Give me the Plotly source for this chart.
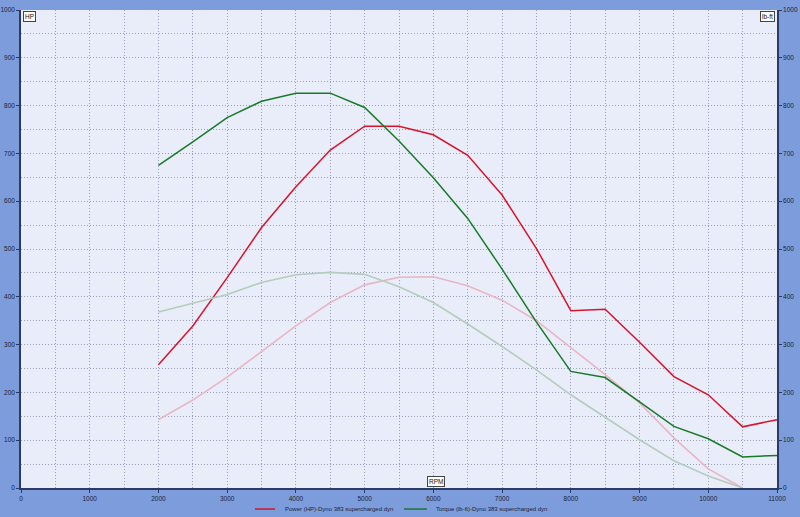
import plotly.graph_objects as go

rpm = [2000, 2500, 3000, 3500, 4000, 4500, 5000, 5500, 6000, 6500, 7000,
       7500, 8000, 8500, 9000, 9500, 10000, 10500, 11000]
power_hp = [258, 339, 440, 545, 630, 707, 757, 757, 739, 696, 613,
            501, 371, 374, 305, 233, 195, 128, 143]
torque_lbft = [675, 724, 775, 809, 826, 826, 796, 726, 649, 564, 458,
               347, 244, 231, 180, 129, 103, 65, 68]

rpm_b = [2000, 2500, 3000, 3500, 4000, 4500, 5000, 5500, 6000, 6500, 7000,
         7500, 8000, 8500, 9000, 9500, 10000, 10500]
power_b = [143, 184, 232, 286, 339, 388, 425, 441, 442, 423, 393,
           350, 293, 237, 178, 105, 40, 0]
torque_b = [368, 387, 405, 430, 446, 451, 447, 421, 388, 343, 296,
            247, 195, 148, 101, 57, 25, 0]

power_name = "Power (HP)-Dyno 383 supercharged dyn"
torque_name = "Torque (lb-ft)-Dyno 383 supercharged dyn"
power_color = "#d8142c"
torque_color = "#187a28"

x_ticks = list(range(0, 11001, 1000))
y_ticks = list(range(0, 1001, 100))

outer_bg = "#7c9cdc"
plot_bg = "#e9ecf9"
grid_col = "#9a9fbc"
axis_col = "#2c3a66"
tick_font = dict(family="Liberation Sans", size=6.5, color="#1a1f3a")
legend_font = dict(family="Liberation Sans", size=6, color="#1a1f3a")
dash = "1px,2px"

fig = go.Figure()
fig.add_trace(go.Scatter(x=rpm_b, y=torque_b, mode="lines",
                         line=dict(color="#b4cdbc", width=1.6),
                         showlegend=False, hoverinfo="skip", yaxis="y2"))
fig.add_trace(go.Scatter(x=rpm_b, y=power_b, mode="lines",
                         line=dict(color="#e8b6c6", width=1.6),
                         showlegend=False, hoverinfo="skip"))
fig.add_trace(go.Scatter(x=rpm, y=power_hp, mode="lines", name=power_name,
                         line=dict(color=power_color, width=1.5), showlegend=False))
fig.add_trace(go.Scatter(x=rpm, y=torque_lbft, mode="lines", name=torque_name,
                         line=dict(color=torque_color, width=1.5), yaxis="y2",
                         showlegend=False))

fig.update_layout(
    width=800, height=517,
    margin=dict(l=21, r=23, t=10, b=29),
    paper_bgcolor=outer_bg,
    plot_bgcolor=plot_bg,
    font=tick_font,
    showlegend=False,
    xaxis=dict(range=[0, 11000], tickvals=x_ticks, ticktext=[str(v) for v in x_ticks],
               showgrid=True, gridcolor=grid_col, griddash=dash, gridwidth=1,
               minor=dict(dtick=500, showgrid=True, gridcolor=grid_col, griddash=dash, gridwidth=1),
               zeroline=False, showline=True, linecolor=axis_col, linewidth=1.5,
               ticks="outside", ticklen=3, tickcolor=axis_col, tickfont=tick_font,
               automargin=False, fixedrange=True),
    yaxis=dict(range=[0, 1000], tickvals=y_ticks, ticktext=[str(v) for v in y_ticks],
               showgrid=True, gridcolor=grid_col, griddash=dash, gridwidth=1,
               minor=dict(dtick=50, showgrid=True, gridcolor=grid_col, griddash=dash, gridwidth=1),
               zeroline=False, showline=True, linecolor=axis_col, linewidth=1.5,
               ticks="outside", ticklen=3, tickcolor=axis_col, tickfont=tick_font,
               automargin=False, fixedrange=True),
    yaxis2=dict(range=[0, 1000], tickvals=y_ticks, ticktext=[str(v) for v in y_ticks],
                overlaying="y", side="right", showgrid=False, zeroline=False,
                showline=True, linecolor=axis_col, linewidth=1.5,
                ticks="outside", ticklen=3, tickcolor=axis_col, tickfont=tick_font,
                automargin=False, fixedrange=True),
)

# Legend (drawn below the plot area, like the original dyno software)
legend_y = -0.044
for x0, x1, xt, name, col in [(0.3095, 0.336, 0.3466, power_name, power_color),
                              (0.5066, 0.537, 0.5463, torque_name, torque_color)]:
    fig.add_shape(type="line", xref="paper", yref="paper", x0=x0, x1=x1,
                  y0=legend_y, y1=legend_y, line=dict(color=col, width=1.5))
    fig.add_annotation(text=name, xref="paper", yref="paper", x=xt, y=legend_y,
                       xanchor="left", yanchor="middle", showarrow=False,
                       font=legend_font)

box = dict(bgcolor="white", bordercolor="#444444", borderwidth=1, borderpad=1,
           font=dict(family="Liberation Sans", size=6.5, color="#111111"))
fig.add_annotation(text="HP", xref="paper", yref="paper", x=0.002, y=0.998,
                   xanchor="left", yanchor="top", showarrow=False, **box)
fig.add_annotation(text="lb-ft", xref="paper", yref="paper", x=0.998, y=0.998,
                   xanchor="right", yanchor="top", showarrow=False, **box)
fig.add_annotation(text="RPM", xref="paper", yref="paper", x=0.5486, y=0.002,
                   xanchor="center", yanchor="bottom", showarrow=False, **box)

fig.write_html("out.html", config={"displayModeBar": False},
               post_script="document.body.style.margin='0';"
                           "document.body.style.overflow='hidden';"
                           "document.body.style.background='" + outer_bg + "';")
